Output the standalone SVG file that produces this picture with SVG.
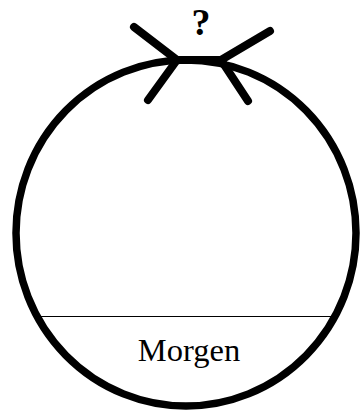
<svg xmlns="http://www.w3.org/2000/svg" width="360" height="410" viewBox="0 0 360 410">
<style>
.ring{fill:none;stroke:#000;stroke-width:7.5}
.head{fill:none;stroke:#000;stroke-width:8;stroke-linecap:round;stroke-linejoin:round}
.sep{stroke:#000;stroke-width:1.2}
.lbl{font-family:"Liberation Serif","Times New Roman",serif;fill:#000;text-anchor:middle}
</style>
<rect width="360" height="410" fill="#fff"/>
<g id="cycle">
<ellipse class="ring" cx="186" cy="233" rx="170" ry="173"/>
</g>
<g id="divider">
<line class="sep" x1="39" y1="316.5" x2="338" y2="316.5"/>
</g>
<g id="connectors">
<polyline class="head" points="134,27 177,60 148,100"/>
<polyline class="head" points="270,31 221,60 248,101"/>
<line x1="177" y1="60" x2="221" y2="60" stroke="#000" stroke-width="8"/>
</g>
<g id="question">
<text class="lbl" x="201" y="35" font-size="38" font-weight="bold">?</text>
</g>
<g id="morgen">
<text class="lbl" x="189" y="361" font-size="32.5">Morgen</text>
</g>
</svg>
